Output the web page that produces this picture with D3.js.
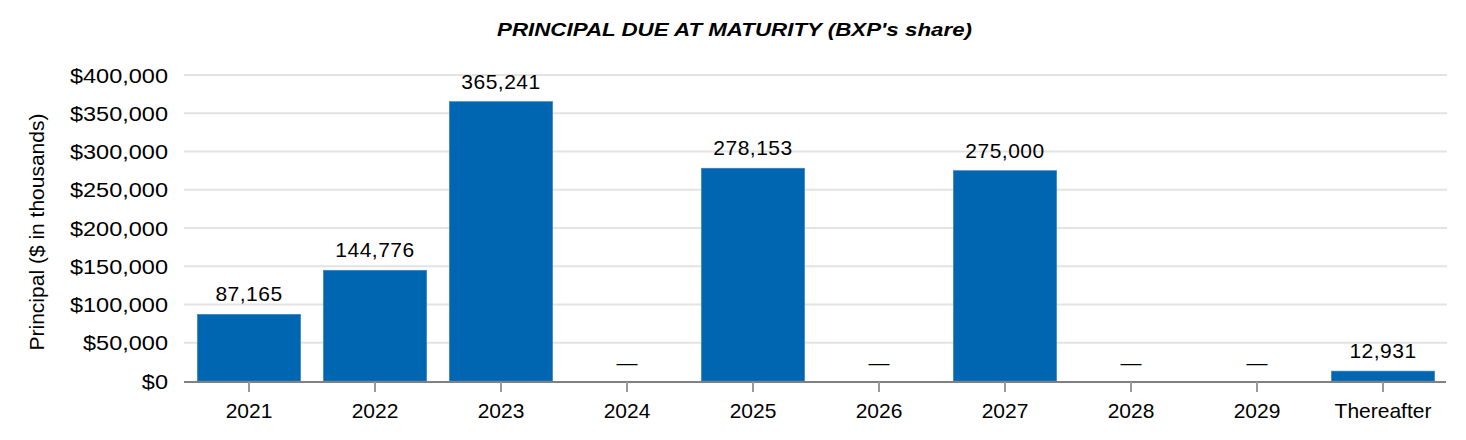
<!DOCTYPE html>
<html><head><meta charset="utf-8">
<script src="https://cdn.jsdelivr.net/npm/d3@7"></script>
<style>body{margin:0;background:#fff;font-family:"Liberation Sans",Arial,sans-serif;}</style>
</head><body><svg id="c" width="1466" height="440"></svg>
<script>
const categories = ["2021","2022","2023","2024","2025","2026","2027","2028","2029","Thereafter"];
const principal = [87165,144776,365241,0,278153,0,275000,0,0,12931];
const yTicks = [0,50000,100000,150000,200000,250000,300000,350000,400000];

const svg = d3.select("#c");
const m = {left:186, right:1446, top:75, bottom:381};
const x = d3.scaleBand().domain(categories).range([m.left,m.right]).paddingInner(0.18).paddingOuter(0.09);
const y = d3.scaleLinear().domain([0,400000]).range([m.bottom,m.top]);

svg.append("text").attr("x",497).attr("y",36)
  .attr("font-size",19).attr("font-weight","bold").attr("font-style","italic").attr("fill","#000")
  .attr("textLength",475).attr("lengthAdjust","spacingAndGlyphs")
  .text("PRINCIPAL DUE AT MATURITY (BXP's share)");

// grid
svg.append("g").selectAll("line").data(yTicks.filter(d=>d>0)).join("line")
  .attr("x1",184).attr("x2",1447).attr("y1",d=>y(d)).attr("y2",d=>y(d))
  .attr("stroke","#e3e3e3").attr("stroke-width",2);

// y labels
svg.append("g").selectAll("text").data(yTicks).join("text")
  .attr("transform",d=>`translate(168,${y(d)}) scale(1.12,1)`).attr("dy","0.36em").attr("text-anchor","end")
  .attr("font-size",21).attr("fill","#000")
  .text(d=>"$"+d3.format(",")(d));

svg.append("text").attr("transform","translate(44,232) rotate(-90)").attr("text-anchor","middle")
  .attr("font-size",21).attr("fill","#000").text("Principal ($ in thousands)");

// bars
svg.append("g").selectAll("rect").data(categories.map((c,i)=>({c,v:principal[i]})).filter(d=>d.v>0)).join("rect")
  .attr("x",d=>x(d.c)).attr("width",x.bandwidth())
  .attr("y",d=>y(d.v)).attr("height",d=>y(0)-y(d.v))
  .attr("fill","#0066b1").attr("stroke","#3d85c0").attr("stroke-width",0.6);

// labels
svg.append("g").selectAll("text").data(categories.map((c,i)=>({c,v:principal[i]}))).join("text")
  .attr("x",d=>x(d.c)+x.bandwidth()/2).attr("y",d=>d.v>0?y(d.v)-13:y(0)-11)
  .attr("text-anchor","middle").attr("font-size",21).attr("letter-spacing",d=>d.v>0?"0.5px":null).attr("fill","#000")
  .text(d=>d.v>0?d3.format(",")(d.v):"—");

// x axis
const xa = svg.append("g").attr("transform",`translate(0,${m.bottom+1})`).call(d3.axisBottom(x).tickSize(10).tickSizeOuter(0));
xa.select(".domain").attr("stroke","#808080").attr("stroke-width",2).attr("d",`M184,0H1446`);
xa.selectAll(".tick line").attr("stroke","#999").attr("stroke-width",2);
xa.selectAll(".tick text").attr("font-size",21).attr("font-family","Liberation Sans, Arial, sans-serif").attr("fill","#000").attr("y",36).attr("dy",null);
</script></body></html>
